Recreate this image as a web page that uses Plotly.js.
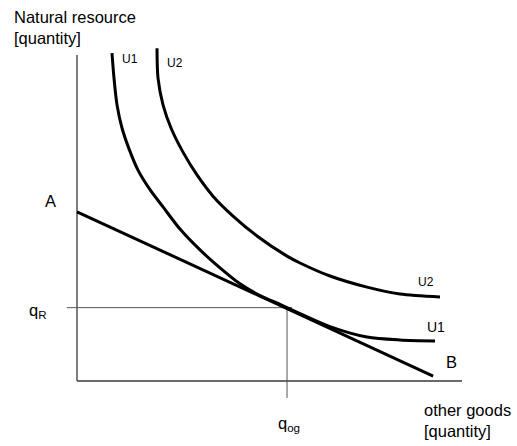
<!DOCTYPE html>
<html>
<head>
<meta charset="utf-8">
<script src="https://cdn.plot.ly/plotly-3.0.1.min.js"></script>
<style>html,body{margin:0;padding:0;background:#fff;}#chart{width:517px;height:446px;}</style>
</head>
<body>
<div id="chart"></div>
<script>
// Budget line A -> B
var budgetX = [0, 9.25];
var budgetY = [5.19, 0.15];
// Indifference curve U1
var u1X = [0.909, 0.961, 1.039, 1.169, 1.351, 1.584, 1.896, 2.234, 2.675, 3.195, 3.714, 4.234, 4.753, 5.273, 5.792, 6.571, 7.532, 8.390, 9.299];
var u1Y = [10.06, 9.29, 8.47, 7.76, 7.12, 6.47, 5.87, 5.34, 4.66, 4.02, 3.47, 2.98, 2.62, 2.35, 2.07, 1.67, 1.35, 1.26, 1.23];
// Indifference curve U2
var u2X = [2.078, 2.104, 2.234, 2.442, 2.753, 3.117, 3.532, 4.052, 4.675, 5.455, 5.792, 6.571, 7.532, 8.390, 9.429];
var u2Y = [10.21, 9.29, 8.47, 7.76, 7.02, 6.32, 5.67, 5.06, 4.45, 3.83, 3.62, 3.22, 2.88, 2.67, 2.58];
// Optimum quantities
var qR = 2.25;
var qOg = 5.455;
// Axis extents
var xAxisMax = 10;
var yAxisMax = 10;
// Text labels
var yTitle = "Natural resource<br>[quantity]";
var xTitle = "other goods<br>[quantity]";
var labelA = "A";
var labelB = "B";
var labelQR = "q<sub>R</sub>";
var labelQog = "q<sub>og</sub>";
var curveNames = ["U1", "U2"];

var FONT = "Liberation Sans, Arial, Helvetica, sans-serif";
var thick = {color: "#000", width: 3};
var axisLine = {color: "#3a3a3a", width: 1.3};
var guideLine = {color: "#555", width: 1};

var traces = [
  {x: [0, 0], y: [0, yAxisMax], mode: "lines", line: axisLine, hoverinfo: "skip"},
  {x: [0, xAxisMax], y: [0, 0], mode: "lines", line: axisLine, hoverinfo: "skip"},
  {x: [-0.26, qOg + 0.13], y: [qR, qR], mode: "lines", line: guideLine, hoverinfo: "skip"},
  {x: [qOg, qOg], y: [qR, -0.52], mode: "lines", line: guideLine, hoverinfo: "skip"},
  {x: budgetX, y: budgetY, mode: "lines", line: thick, name: "budget"},
  {x: u1X, y: u1Y, mode: "lines", line: Object.assign({shape: "spline", smoothing: 0.8}, thick), name: curveNames[0]},
  {x: u2X, y: u2Y, mode: "lines", line: Object.assign({shape: "spline", smoothing: 0.8}, thick), name: curveNames[1]}
];

function ann(text, x, y, size, xanchor, align) {
  return {text: text, x: x, y: y, xref: "x", yref: "y", showarrow: false,
    xanchor: xanchor || "center", yanchor: "middle", align: align || "left",
    font: {family: FONT, size: size, color: "#000"}};
}

var annotations = [
  ann(yTitle, -1.69, 10.83, 16.5, "left"),
  ann(xTitle, 8.96, -1.2, 16.5, "left"),
  ann(labelA, -0.70, 5.52, 16.5),
  ann(labelB, 9.714, 0.58, 16.5),
  ann(labelQR, -1.30, 2.15, 16.5, "left"),
  ann(labelQog, 5.17, -1.32, 16.5, "left"),
  ann(curveNames[0], 1.377, 9.88, 12),
  ann(curveNames[1], 2.545, 9.75, 12),
  ann(curveNames[1], 9.065, 3.04, 12),
  ann(curveNames[0], 9.325, 1.66, 14)
];

var layout = {
  width: 517, height: 446,
  margin: {l: 0, r: 0, t: 0, b: 0},
  paper_bgcolor: "#fff", plot_bgcolor: "#fff",
  showlegend: false,
  xaxis: {range: [-2.0, 11.428], visible: false, fixedrange: true},
  yaxis: {range: [-1.994, 11.687], visible: false, fixedrange: true},
  annotations: annotations,
  font: {family: FONT}
};

Plotly.newPlot("chart", traces, layout, {staticPlot: true, displayModeBar: false});
</script>
</body>
</html>
